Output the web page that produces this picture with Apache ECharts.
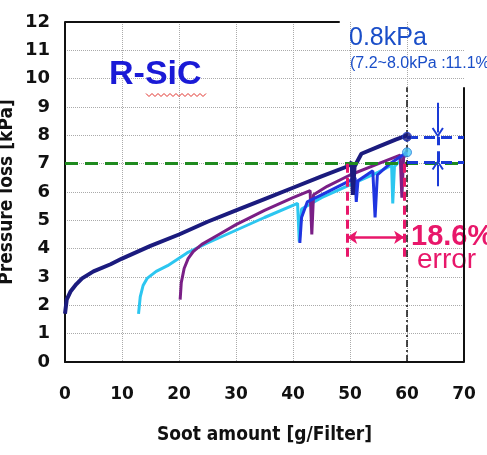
<!DOCTYPE html>
<html>
<head>
<meta charset="utf-8">
<script src="https://cdn.jsdelivr.net/npm/echarts@6/dist/echarts.min.js"></script>
<style>
  html, body { margin: 0; background: #fff; }
  #main { width: 487px; height: 455px; }
</style>
</head>
<body>
<div id="main"></div>
<script>
// measured curves [soot g/Filter, pressure loss kPa]
const navyData = [[0,1.7],[0.3,2.2],[1,2.5],[2,2.75],[3,2.95],[5,3.2],[8,3.45],[10,3.65],[15,4.1],[20,4.5],[25,4.95],[30,5.35],[35,5.75],[40,6.15],[45,6.55],[49.5,6.9],[50.3,7.05],[50.5,5.9],[50.8,6.9],[52,7.35],[55,7.6],[58,7.85],[60,8.0]];
const purpleData = [[20.2,2.2],[20.4,2.8],[20.9,3.3],[21.6,3.65],[22.5,3.9],[24,4.15],[27,4.5],[30,4.85],[35,5.35],[40,5.8],[43,6.05],[43.3,4.5],[43.6,5.9],[46,6.2],[50,6.6],[55,7.0],[58.8,7.3],[59.1,5.8],[59.4,7.2],[60,7.5]];
const cyanData = [[12.9,1.7],[13.2,2.3],[13.7,2.7],[14.4,2.95],[16,3.2],[18,3.4],[21.4,3.85],[25,4.2],[30,4.65],[35,5.1],[40.8,5.6],[41.1,4.25],[41.5,5.4],[45,5.8],[50,6.25],[55,6.7],[57.3,6.95],[57.5,5.6],[57.8,6.9],[60,7.35]];
const blueData = [[41.2,4.2],[41.5,5.1],[42.5,5.65],[45,5.9],[50,6.4],[50.9,6.5],[51.1,5.65],[51.4,6.4],[54,6.75],[54.4,5.1],[54.8,6.6],[57,7.0],[60,7.4]];
const endPoints = [[60,7.95],[60,7.4]];

const xMin = 0, xMax = 70, xStep = 10;
const yMin = 0, yMax = 12, yStep = 1;

const limitY = 7;          // green reference
const limitX = 60;         // black dash-dot
const errLeft = 49.5, errRight = 59.5, errArrowY = 4.4, errTop = 7, errBottom = 3.7;
const kpaHigh = 7.95, kpaLow = 7.05, kpaX = 65.4;

function seg(x1, y1, x2, y2, lineStyle, symbol, symbolSize) {
  return [
    { coord: [x1, y1], lineStyle: lineStyle, symbol: symbol ? symbol[0] : 'none', symbolSize: symbolSize || 10 },
    { coord: [x2, y2], symbol: symbol ? symbol[1] : 'none', symbolSize: symbolSize || 10 }
  ];
}

const black = { color: '#111', width: 2, type: 'solid' };
const green = { color: '#1f8a1f', width: 3, type: [13, 7] };
const dashDot = { color: '#111', width: 1.5, type: [7, 3, 2, 3] };
const pink = { color: '#e8176a', width: 3, type: [9, 5] };
const pinkSolid = { color: '#e8176a', width: 2.5, type: 'solid' };
const blueDash = { color: '#1a3ad6', width: 3, type: [11, 6] };
const blueSolid = { color: '#1a3ad6', width: 2, type: 'solid' };
const chevron = 'path://M5,0 L10,9 L8.6,10 L5,3.2 L1.4,10 L0,9 Z';
const nameFont = { fontFamily: 'DejaVu Sans Condensed, DejaVu Sans', fontWeight: 'bold', fontSize: 19, color: '#111' };

const chart = echarts.init(document.getElementById('main'));

const option = {
  animation: false,
  grid: { left: 65, top: 22, right: 23, bottom: 93, outerBoundsMode: 'none', containLabel: false },
  xAxis: {
    type: 'value', min: xMin, max: xMax, interval: xStep,
    name: 'Soot amount [g/Filter]', nameLocation: 'middle', nameGap: 64, nameMoveOverlap: false,
    nameTextStyle: nameFont,
    axisLine: { lineStyle: { color: '#111', width: 2 } },
    axisTick: { show: false },
    axisLabel: { margin: 24, fontFamily: 'DejaVu Sans', fontWeight: 'bold', fontSize: 17, color: '#111' },
    splitLine: { show: true, showMinLine: false, showMaxLine: false, lineStyle: { color: '#aaa', type: 'dotted', width: 1 } }
  },
  yAxis: {
    type: 'value', min: yMin, max: yMax, interval: yStep,
    name: 'Pressure loss [kPa]', nameLocation: 'middle', nameGap: 48, nameMoveOverlap: false,
    nameTextStyle: nameFont,
    axisLine: { show: true, lineStyle: { color: '#111', width: 2 } },
    axisTick: { show: false },
    axisLabel: { margin: 15, fontFamily: 'DejaVu Sans', fontWeight: 'bold', fontSize: 18, color: '#111' },
    splitLine: { show: true, showMinLine: false, showMaxLine: false, lineStyle: { color: '#aaa', type: 'dotted', width: 1 } }
  },
  series: [
    {
      name: 'frame', type: 'line', data: [], silent: true, clip: false,
      markLine: {
        silent: true, animation: false, label: { show: false }, symbol: 'none',
        data: [
          seg(0, yMax, 48.2, yMax, black),
          seg(xMax, 0, xMax, 9.7, black),
          seg(0, limitY, xMax, limitY, green),
          seg(limitX, 0, limitX, 9.7, dashDot)
        ]
      }
    },
    { name: 'cyan', type: 'line', data: cyanData, showSymbol: false, lineStyle: { color: '#2cc6f0', width: 3 } },
    { name: 'purple', type: 'line', data: purpleData, showSymbol: false, lineStyle: { color: '#7a1f86', width: 3 } },
    { name: 'blue', type: 'line', data: blueData, showSymbol: false, lineStyle: { color: '#2035e0', width: 3 } },
    { name: 'navy', type: 'line', data: navyData, showSymbol: false, lineStyle: { color: '#1b1b7e', width: 4 } },
    {
      name: 'ends', type: 'scatter', symbolSize: 9, z: 5,
      data: [
        { value: endPoints[0], itemStyle: { color: '#1b1b7e', borderColor: '#2a4ad8', borderWidth: 1 } },
        { value: endPoints[1], itemStyle: { color: '#4fd0f5', borderColor: '#2a7ad8', borderWidth: 1 } }
      ]
    },
    {
      name: 'notes', type: 'line', data: [], silent: true, clip: false,
      markLine: {
        silent: true, animation: false, label: { show: false }, symbol: 'none',
        data: [
          seg(errLeft, errTop, errLeft, errBottom, pink),
          seg(errRight, errTop, errRight, errBottom, pink),
          seg(errLeft, errArrowY, errRight, errArrowY, pinkSolid, ['arrow', 'arrow'], 10),
          seg(limitX, kpaHigh, xMax, kpaHigh, blueDash),
          seg(limitX, kpaLow, xMax, kpaLow, blueDash),
          seg(kpaX, kpaLow, kpaX, kpaHigh, blueDash),
          seg(kpaX, 9.15, kpaX, 8.1, blueSolid, ['none', chevron], [12, 10]),
          seg(kpaX, 6.2, kpaX, 6.95, blueSolid, ['none', chevron], [12, 10])
        ]
      }
    }
  ]
};
chart.setOption(option);

// text annotations and the spell-check underline
const wave = [];
for (let i = 0; i <= 20; i++) wave.push([146 + i * 3, 95 + (i % 2 ? 1.5 : -1.5)]);

chart.setOption({
  graphic: [
    { type: 'text', left: 109, top: 58, style: { text: 'R-SiC', fontFamily: 'Arial, Liberation Sans', fontWeight: 'bold', fontSize: 34, fill: '#1a1ad6' } },
    { type: 'polyline', shape: { points: wave }, style: { stroke: '#e0302a', lineWidth: 1, fill: null } },
    { type: 'text', left: 349, top: 26, style: { text: '0.8kPa', fontFamily: 'Arial, Liberation Sans', fontSize: 25, fill: '#1a4ec8' } },
    { type: 'text', left: 350, top: 56, style: { text: '(7.2~8.0kPa :11.1%)', fontFamily: 'Arial, Liberation Sans', fontSize: 16, fill: '#1a4ec8' } },
    { type: 'text', left: 411, top: 222, style: { text: '18.6%', fontFamily: 'Arial, Liberation Sans', fontWeight: 'bold', fontSize: 29, fill: '#e8176a' } },
    { type: 'text', left: 417, top: 246, style: { text: 'error', fontFamily: 'Arial, Liberation Sans', fontSize: 28, fill: '#e8176a' } }
  ]
});
</script>
</body>
</html>
